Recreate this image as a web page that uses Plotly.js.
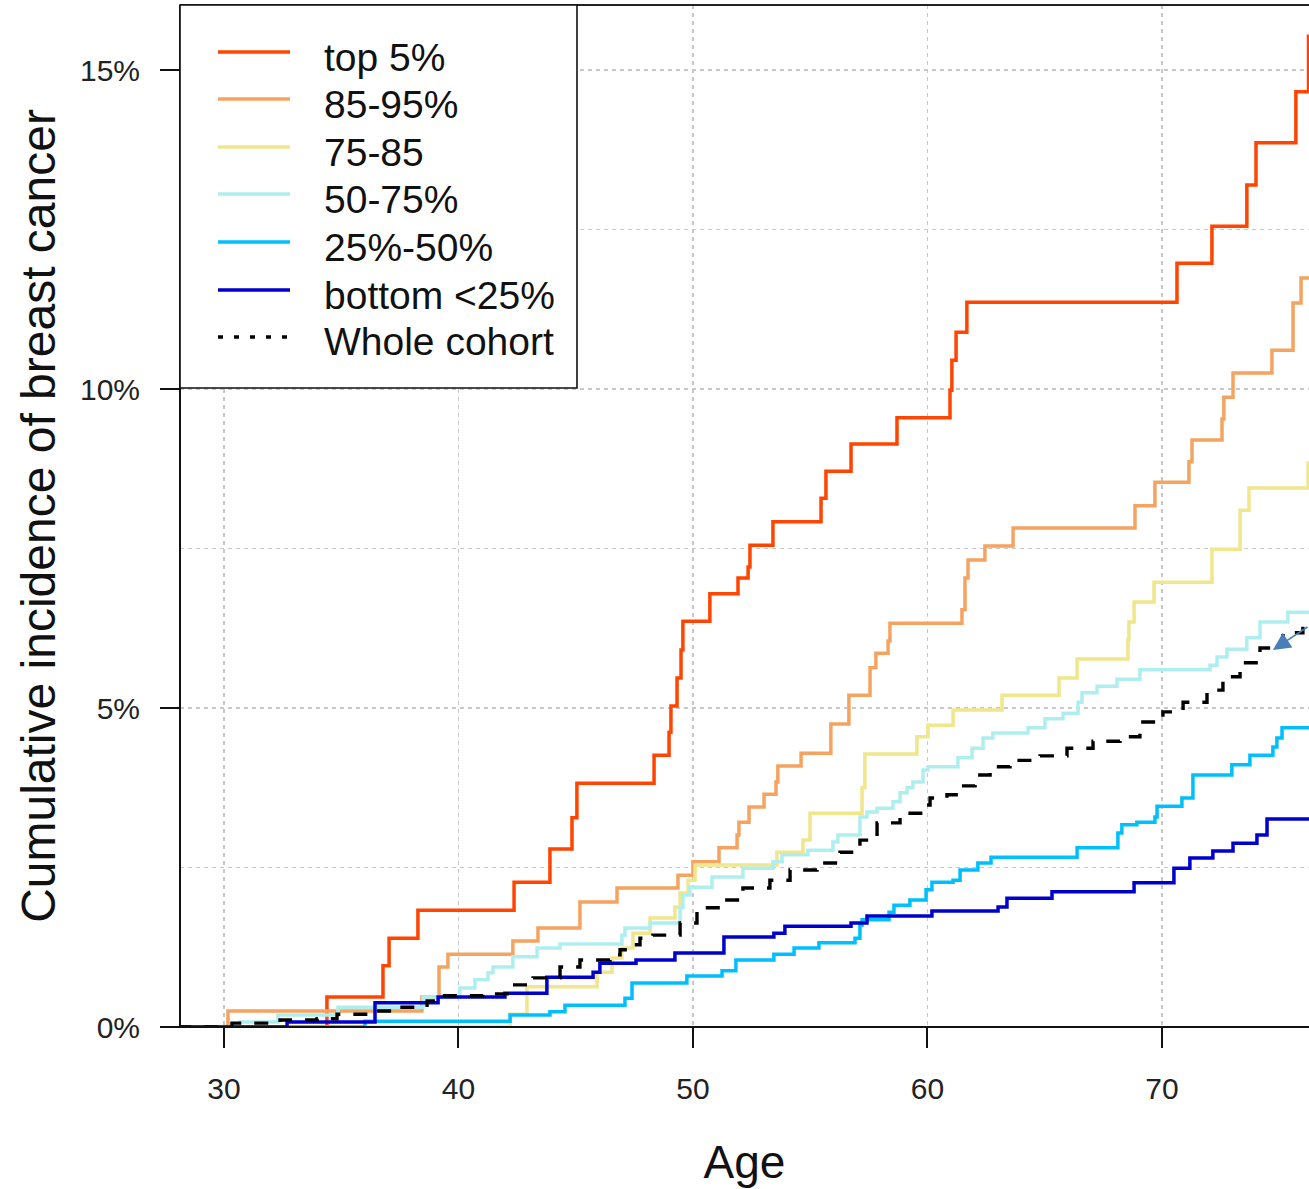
<!DOCTYPE html>
<html>
<head>
<meta charset="utf-8">
<script src="https://cdn.plot.ly/plotly-3.0.1.min.js"></script>
<style>html,body{margin:0;padding:0;background:#fff;}#chart{width:1309px;height:1189px;}</style>
</head>
<body>
<div id="chart"></div>
<script>
// ---- Data (age in years, cumulative incidence in %) ----
const seriesNames = ["top 5%", "85-95%", "75-85", "50-75%", "25%-50%", "bottom <25%", "Whole cohort"];

const top5Age = [28.0, 34.39, 36.78, 37.04, 38.27, 42.37, 43.90, 44.84, 45.05, 48.34, 48.98, 49.06, 49.32, 49.49, 49.57, 50.72, 51.92, 52.35, 52.43, 53.41, 55.46, 55.67, 56.74, 58.70, 60.96, 61.04, 61.22, 61.68, 70.64, 72.13, 73.62, 74.01, 75.71, 76.25, 77.0];
const top5Val = [0, 0.47, 0.96, 1.39, 1.83, 2.27, 2.79, 3.28, 3.82, 4.26, 4.62, 5.03, 5.47, 5.91, 6.36, 6.79, 7.04, 7.21, 7.55, 7.92, 8.29, 8.71, 9.14, 9.55, 9.98, 10.45, 10.89, 11.36, 11.97, 12.55, 13.20, 13.86, 14.66, 15.53, 15.53];

const p85Age = [28.0, 30.17, 38.44, 39.17, 39.55, 42.32, 43.39, 45.18, 46.76, 49.36, 50.00, 51.11, 51.88, 51.96, 52.39, 53.03, 53.54, 53.62, 54.61, 55.88, 56.65, 57.55, 57.80, 58.32, 58.40, 61.47, 61.60, 61.73, 62.45, 63.65, 68.85, 69.70, 71.15, 71.28, 72.56, 72.64, 73.03, 74.69, 75.59, 75.93, 77.0];
const p85Val = [0, 0.25, 0.47, 0.94, 1.14, 1.35, 1.55, 1.96, 2.18, 2.38, 2.59, 2.81, 3.01, 3.21, 3.45, 3.65, 3.84, 4.09, 4.29, 4.75, 5.20, 5.63, 5.86, 6.05, 6.33, 6.54, 7.04, 7.32, 7.54, 7.82, 8.17, 8.54, 8.86, 9.20, 9.53, 9.87, 10.25, 10.61, 11.35, 11.74, 11.74];

const p75Age = [28.0, 42.20, 42.92, 45.91, 46.55, 46.97, 47.44, 48.17, 49.23, 49.45, 49.79, 50.09, 53.58, 54.69, 54.99, 57.21, 57.33, 59.55, 60.02, 61.09, 63.18, 65.61, 66.38, 68.55, 68.59, 68.81, 69.66, 72.13, 73.33, 73.71, 76.23, 77.0];
const p75Val = [0, 0.20, 0.63, 0.86, 1.08, 1.24, 1.47, 1.71, 1.88, 2.10, 2.30, 2.54, 2.74, 2.93, 3.35, 3.75, 4.28, 4.55, 4.73, 4.97, 5.20, 5.47, 5.77, 6.07, 6.35, 6.66, 6.97, 7.49, 8.10, 8.45, 8.84, 8.84];

const p50Age = [28.0, 30.68, 32.30, 34.86, 38.49, 40.06, 40.70, 41.26, 41.47, 42.32, 43.35, 44.33, 46.97, 47.10, 48.17, 49.45, 49.57, 49.87, 50.81, 52.13, 53.41, 53.80, 54.90, 55.97, 56.18, 57.12, 57.42, 57.85, 58.53, 58.83, 59.13, 59.38, 59.81, 60.02, 61.30, 61.90, 62.37, 62.79, 64.29, 65.01, 65.78, 66.42, 66.59, 67.23, 68.08, 69.06, 72.05, 72.35, 72.77, 73.62, 74.18, 75.37, 77.0];
const p50Val = [0, 0.08, 0.19, 0.31, 0.47, 0.61, 0.74, 0.85, 0.94, 1.10, 1.24, 1.30, 1.44, 1.55, 1.63, 1.87, 2.07, 2.19, 2.35, 2.49, 2.59, 2.70, 2.77, 2.90, 3.01, 3.29, 3.37, 3.43, 3.53, 3.67, 3.75, 3.84, 4.03, 4.08, 4.22, 4.37, 4.53, 4.61, 4.69, 4.83, 4.92, 5.09, 5.24, 5.34, 5.45, 5.60, 5.67, 5.80, 5.92, 6.10, 6.35, 6.50, 6.50];

const p25Age = [28.0, 36.01, 42.20, 43.90, 44.54, 47.10, 47.40, 49.74, 51.24, 51.83, 53.45, 54.31, 55.37, 56.91, 57.12, 57.21, 58.36, 58.57, 59.25, 59.94, 60.19, 61.09, 61.39, 62.15, 62.71, 66.38, 68.12, 68.29, 68.93, 69.70, 69.79, 70.85, 71.32, 72.98, 73.75, 74.73, 74.90, 75.12, 77.0];
const p25Val = [0, 0.09, 0.19, 0.24, 0.34, 0.45, 0.69, 0.80, 0.88, 1.05, 1.14, 1.24, 1.32, 1.39, 1.60, 1.68, 1.80, 1.91, 1.99, 2.15, 2.27, 2.30, 2.46, 2.57, 2.66, 2.81, 3.04, 3.17, 3.21, 3.29, 3.46, 3.59, 3.95, 4.11, 4.26, 4.39, 4.53, 4.69, 4.69];

const bottomAge = [28.0, 32.69, 36.44, 39.13, 41.98, 43.77, 45.74, 46.03, 47.57, 49.23, 51.32, 53.45, 53.92, 56.74, 57.42, 60.19, 63.01, 63.39, 65.31, 68.81, 70.51, 71.19, 72.17, 73.03, 74.05, 74.48, 77.0];
const bottomVal = [0, 0.08, 0.38, 0.47, 0.53, 0.78, 0.86, 1.00, 1.05, 1.16, 1.41, 1.47, 1.58, 1.63, 1.74, 1.82, 1.88, 2.02, 2.12, 2.26, 2.49, 2.65, 2.76, 2.88, 3.01, 3.26, 3.26];

const wholeAge = [28.0, 30.34, 32.39, 33.97, 34.82, 36.52, 37.38, 38.66, 39.21, 41.04, 42.28, 43.18, 44.33, 45.18, 46.46, 46.89, 47.44, 47.74, 48.29, 49.45, 50.17, 51.28, 52.13, 53.28, 54.14, 55.29, 56.27, 57.12, 57.85, 58.83, 59.81, 60.11, 60.83, 61.39, 62.03, 62.67, 63.52, 64.80, 65.95, 67.06, 68.21, 69.06, 70.04, 70.90, 71.92, 72.60, 73.33, 74.18, 75.16, 76.01, 77.0];
const wholeVal = [0, 0.06, 0.11, 0.13, 0.20, 0.25, 0.31, 0.41, 0.49, 0.52, 0.66, 0.77, 0.94, 1.05, 1.13, 1.21, 1.29, 1.39, 1.44, 1.63, 1.87, 1.99, 2.18, 2.30, 2.46, 2.57, 2.74, 2.93, 3.20, 3.35, 3.48, 3.59, 3.64, 3.78, 3.95, 4.08, 4.18, 4.25, 4.37, 4.48, 4.55, 4.78, 4.94, 5.09, 5.28, 5.49, 5.71, 5.94, 6.18, 6.35, 6.35];

const xTickVals = [30, 40, 50, 60, 70];
const yTickVals = [0, 5, 10, 15];
const yTickText = ["0%", "5%", "10%", "15%"];

// ---- Styles ----
const colors = ["#FF4500", "#F4A460", "#F0E68C", "#AFEEEE", "#00BFFF", "#0000CD", "#000000"];
const FONT = "Liberation Sans, Arial, Helvetica, sans-serif";

const xs = [top5Age, p85Age, p75Age, p50Age, p25Age, bottomAge, wholeAge];
const ys = [top5Val, p85Val, p75Val, p50Val, p25Val, bottomVal, wholeVal];

const traces = xs.map((x, i) => ({
  type: "scatter", mode: "lines", x: x, y: ys[i], name: seriesNames[i],
  line: {shape: "hv", color: colors[i], width: i === 6 ? 3.4 : 3.5, dash: i === 6 ? "14px,13px" : "solid"},
  showlegend: false, hoverinfo: "skip"
}));

// ---- custom legend (box, samples, labels) ----
const legX0 = 0, legX1 = (577 - 180) / 1129, legY0 = (1027 - 388) / 1022, legY1 = 1;
const rowPix = [52, 99, 147, 194, 242, 290, 337];
const shapes = [
  {type: "line", xref: "paper", yref: "paper", x0: -0.016, x1: 1, y0: 0, y1: 0, line: {color: "#111", width: 2}, layer: "above"},
  {type: "line", xref: "paper", yref: "paper", x0: 0, x1: 0, y0: 0, y1: 1, line: {color: "#111", width: 2}, layer: "above"},
  {type: "line", xref: "paper", yref: "paper", x0: 0, x1: 1, y0: 1, y1: 1, line: {color: "#222", width: 2}, layer: "above"},
  {type: "rect", xref: "paper", yref: "paper", x0: legX0, x1: legX1, y0: legY0, y1: legY1,
   fillcolor: "#ffffff", line: {color: "#111", width: 1.6}, layer: "above"}
];
const annotations = [];
rowPix.forEach((py, i) => {
  const yp = (1027 - py) / 1022;
  shapes.push({type: "line", xref: "paper", yref: "paper",
    x0: (218 - 180) / 1129, x1: (290 - 180) / 1129, y0: yp, y1: yp,
    line: {color: colors[i], width: 3.4, dash: i === 6 ? "5px,11px" : "solid"}, layer: "above"});
  annotations.push({xref: "paper", yref: "paper", x: (322 - 180) / 1129, y: (1027 - py - 5) / 1022,
    xanchor: "left", yanchor: "middle", showarrow: false, text: seriesNames[i],
    font: {family: FONT, size: 39, color: "#111"}});
});
annotations.push({x: 74.73, y: 5.91, xref: "x", yref: "y", ax: 44, ay: -24, text: "",
  showarrow: true, arrowhead: 2, arrowsize: 2.2, arrowwidth: 1.6, arrowcolor: "#4A7EBB"});

const gridStyle = {gridcolor: "#c8c8c8", griddash: "4px,4px", gridwidth: 1.5};

const layout = {
  width: 1309, height: 1189,
  margin: {l: 180, r: 0, t: 5, b: 162, pad: 0},
  paper_bgcolor: "#ffffff", plot_bgcolor: "#ffffff",
  font: {family: FONT, color: "#222"},
  xaxis: Object.assign({
    range: [28.124, 76.27], tickmode: "array", tickvals: xTickVals,
    ticks: "outside", ticklen: 20, tickwidth: 2, tickcolor: "#111",
    ticklabelstandoff: 15,
    showline: false, zeroline: false, showgrid: true,
    tickfont: {family: FONT, size: 30, color: "#222"},
    title: {text: "Age", font: {family: FONT, size: 46, color: "#111"}, standoff: 41}
  }, gridStyle),
  yaxis: Object.assign({
    range: [0, 16.02], tickmode: "array", tickvals: yTickVals, ticktext: yTickText,
    ticks: "outside", ticklen: 19, tickwidth: 2, tickcolor: "#111",
    ticklabelstandoff: 14,
    showline: false, zeroline: false, showgrid: true,
    minor: Object.assign({dtick: 2.5, tick0: 0, showgrid: true, ticks: ""}, gridStyle),
    tickfont: {family: FONT, size: 30, color: "#222"},
    title: {text: "Cumulative incidence of breast cancer", font: {family: FONT, size: 48, color: "#111"}, standoff: 9}
  }, gridStyle),
  shapes: shapes,
  annotations: annotations,
  showlegend: false
};

Plotly.newPlot("chart", traces, layout, {displayModeBar: false, staticPlot: true});
</script>
</body>
</html>
